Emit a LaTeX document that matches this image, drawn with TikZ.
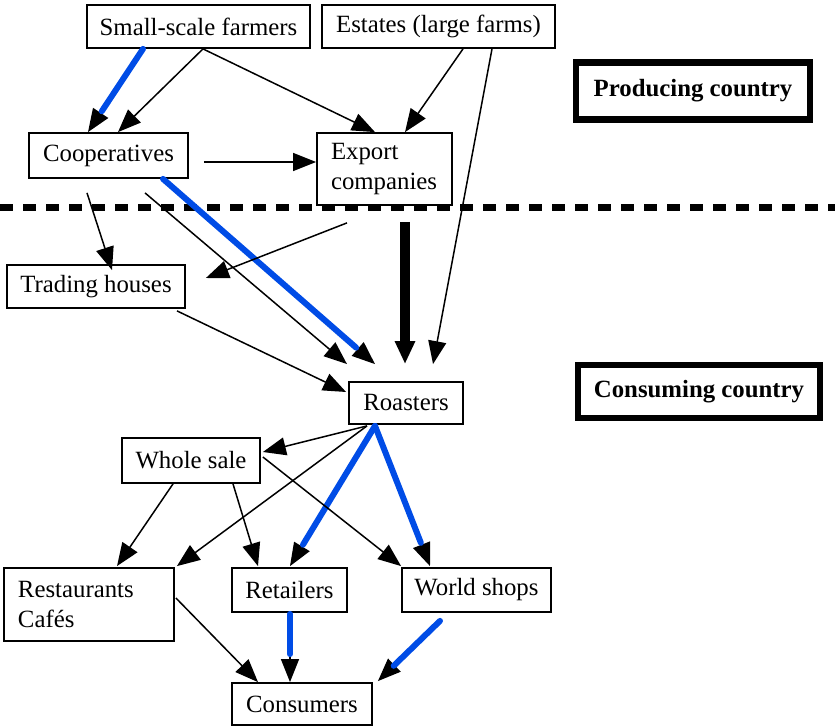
\documentclass[tikz,border=0pt]{standalone}
\usepackage{fontspec}
\setmainfont{Liberation Serif}
\usepackage[]{xcolor}
\usepackage{tikz}
\usetikzlibrary{calc,arrows.meta}
\definecolor{hlblue}{RGB}{0,76,230}

\begin{document}
\begin{tikzpicture}[x=0.5pt,y=-0.5pt]
\tikzstyle{box}=[draw=black,line width=0.9pt,rectangle,inner sep=0pt,font=\fontsize{12.4}{14.8}\selectfont]
\tikzstyle{tbox}=[box,align=left,inner xsep=7pt,anchor=center]
\tikzstyle{region}=[draw=black,line width=3.2pt,rectangle,font=\fontsize{12.4}{14.8}\selectfont\bfseries]
\tikzstyle{flow}=[-{Triangle[length=11.5pt,width=9pt]},line width=0.75pt]
\tikzstyle{mainflow}=[-{Triangle[length=11.5pt,width=9.5pt]},line width=5pt]
\tikzstyle{fair}=[hlblue,line width=3pt,line cap=round,shorten >=12.5pt]
\tikzstyle{border}=[dash pattern=on 6.5pt off 5pt,line width=3.5pt]

\useasboundingbox (0,0) rectangle (835,727);

% producing side
\node[box,minimum width=111.5pt,minimum height=21.5pt] (farmers) at (198.5,26.5) {Small-scale farmers};
\node[box,minimum width=116.5pt,minimum height=21.5pt] (estates) at (438.5,26.5) {Estates (large farms)};
\node[region,minimum width=117pt,minimum height=28.5pt] (prod) at (693,91) {Producing country};
\node[box,minimum width=79.5pt,minimum height=22.5pt] (coop) at (108.5,155.5) {Cooperatives};
\node[tbox,text width=53.5pt,minimum height=36pt] (export) at (384.5,169) {Export\\companies};

\draw[border] (0,208) -- (835,208);

% consuming side
\node[box,minimum width=89pt,minimum height=21.5pt] (trading) at (96,286.5) {Trading houses};
\node[box,minimum width=57pt,minimum height=21pt] (roasters) at (406,403) {Roasters};
\node[region,minimum width=121pt,minimum height=26.5pt] (cons) at (699,391.5) {Consuming country};
\node[box,minimum width=69pt,minimum height=22.5pt] (whole) at (191,460.5) {Whole sale};
\node[tbox,text width=71pt,minimum height=36.5pt] (rest) at (89,604.5) {Restaurants\\Caf\'es};
\node[box,minimum width=57.5pt,minimum height=22pt] (retail) at (289.5,590) {Retailers};
\node[box,minimum width=74.5pt,minimum height=22pt] (world) at (476.5,590) {World shops};
\node[box,minimum width=70pt,minimum height=21pt] (consumers) at (302,704) {Consumers};

% flows above the line
\draw[flow] ($(farmers.south)+(4.5,0)$) -- ($(coop.north)+(9.5,0)$);
\draw[flow] ($(farmers.south)+(-55.5,0)$) -- ($(coop.north)+(-20.5,0)$);
\draw[fair] ($(farmers.south)+(-55.5,0)$) -- ($(coop.north)+(-20.5,0)$);
\draw[flow] ($(farmers.south)+(4.5,0)$) -- ($(export.north)+(-9.5,0)$);
\draw[flow] ($(estates.south)+(24.5,0)$) -- ($(export.north)+(20.5,0)$);
\draw[flow] ($(estates.south)+(53.5,0)$) -- ($(roasters.north)+(27,-17)$);
\draw[flow] ($(coop.east)+(15,6.5)$) -- ($(export.west)+(0,-7)$);

% crossing the border
\draw[flow] ($(coop.south)+(-21.5,14)$) -- ($(trading.north)+(16,6)$);
\draw[flow] ($(coop.south)+(36.5,14)$) -- ($(roasters.north)+(-59,-17)$);
\draw[flow] ($(coop.south)+(54.5,0)$) -- ($(roasters.north)+(-31,-17)$);
\draw[fair] ($(coop.south)+(54.5,0)$) -- ($(roasters.north)+(-31,-17)$);
\draw[flow] ($(export.south)+(-37.5,17)$) -- ($(trading.east)+(20,-8.5)$);
\draw[mainflow] ($(export.south)+(20.5,16)$) -- ($(roasters.north)+(-1,-17)$);
\draw[flow] ($(trading.south)+(81,2)$) -- ($(roasters.west)+(-2,-11)$);

% flows below the line
\draw[flow] ($(roasters.south)+(-39,1)$) -- ($(whole.east)+(2,-8.5)$);
\draw[flow] ($(roasters.south)+(-39,1)$) -- ($(rest.north east)+(2,-1)$);
\draw[flow] ($(roasters.south)+(-31,1)$) -- ($(retail.north)+(0.5,-1)$);
\draw[fair] ($(roasters.south)+(-31,1)$) -- ($(retail.north)+(0.5,-1)$);
\draw[flow] ($(roasters.south)+(-31,1)$) -- ($(world.north)+(-46.5,-1)$);
\draw[fair] ($(roasters.south)+(-31,1)$) -- ($(world.north)+(-46.5,-1)$);
\draw[flow] ($(whole.south)+(-18,0)$) -- ($(rest.north)+(28,-1)$);
\draw[flow] ($(whole.south)+(42,0)$) -- ($(retail.north)+(-31.5,-1)$);
\draw[flow] ($(whole.east)+(2,-3.5)$) -- ($(world.north west)+(0,-1)$);
\draw[flow] ($(rest.east)+(1,-6.5)$) -- ($(consumers.north)+(-44,0)$);
\draw[flow] ($(retail.south)+(0.5,1)$) -- ($(consumers.north)+(-12,0)$);
\draw[fair,shorten >=14pt] ($(retail.south)+(0.5,1)$) -- ($(consumers.north)+(-12,0)$);
\draw[flow] ($(world.south)+(-36.5,8)$) -- ($(consumers.north east)+(5,-1)$);
\draw[fair,shorten >=11pt] ($(world.south)+(-36.5,8)$) -- ($(consumers.north east)+(5,-1)$);
\end{tikzpicture}
\end{document}
